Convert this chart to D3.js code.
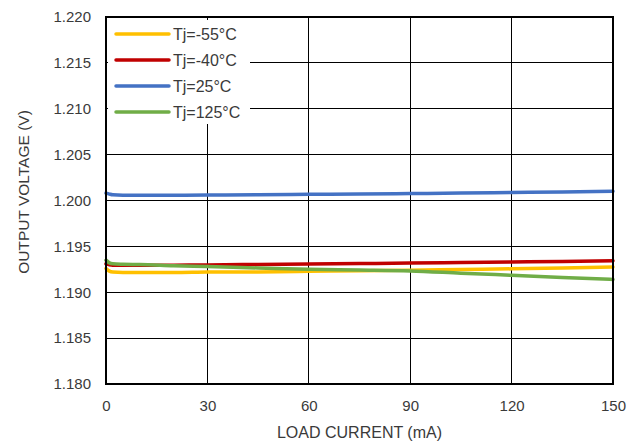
<!DOCTYPE html>
<html><head><meta charset="utf-8">
<script src="https://cdn.jsdelivr.net/npm/d3@7"></script>
<style>
body{margin:0;background:#fff;}
svg text{font-family:"Liberation Sans",Arial,sans-serif;fill:#3a3a3a;}
</style></head>
<body><svg id="c" width="628" height="443"></svg>
<script>
const loadCurrent = [0, 1, 2, 5, 10, 20, 30, 45, 60, 75, 90, 105, 120, 135, 150];
const vMinus55 = [1.1926, 1.1923, 1.1922, 1.19215, 1.19215, 1.19215, 1.1922, 1.19222, 1.19228, 1.19235, 1.1924, 1.19248, 1.19255, 1.19265, 1.19275];
const vMinus40 = [1.1931, 1.1930, 1.19295, 1.19293, 1.19293, 1.19295, 1.19298, 1.19303, 1.19308, 1.19313, 1.19318, 1.19324, 1.1933, 1.19336, 1.19343];
const v25 = [1.2008, 1.2007, 1.20062, 1.20058, 1.20058, 1.20058, 1.2006, 1.20063, 1.20067, 1.20071, 1.20076, 1.20081, 1.20087, 1.20093, 1.2010];
const v125 = [1.1935, 1.1932, 1.1931, 1.19305, 1.19302, 1.1929, 1.1928, 1.19265, 1.1925, 1.19242, 1.19232, 1.19208, 1.19185, 1.19162, 1.1914];
const seriesNames = ["Tj=-55°C", "Tj=-40°C", "Tj=25°C", "Tj=125°C"];
const seriesColors = ["#FFC000", "#C00000", "#4472C4", "#70AD47"];
const xTicks = [0, 30, 60, 90, 120, 150];
const yTicks = [1.180, 1.185, 1.190, 1.195, 1.200, 1.205, 1.210, 1.215, 1.220];

const seriesValues = [vMinus55, vMinus40, v25, v125];
const svg = d3.select("#c");
const L = 106, R = 613, T = 17, B = 384;
const x = d3.scaleLinear().domain([0, 150]).range([L, R]);
const y = d3.scaleLinear().domain([1.180, 1.220]).range([B, T]);

// grid
svg.append("g").selectAll("line").data(yTicks).join("line")
  .attr("x1", L).attr("x2", R).attr("y1", d => y(d)).attr("y2", d => y(d))
  .attr("stroke", "#000").attr("stroke-width", 1).attr("shape-rendering","crispEdges");
svg.append("g").selectAll("line").data(xTicks).join("line")
  .attr("y1", T).attr("y2", B).attr("x1", d => x(d)).attr("x2", d => x(d))
  .attr("stroke", "#000").attr("stroke-width", 1).attr("shape-rendering","crispEdges");

// axes labels
const yAxis = d3.axisLeft(y).tickValues(yTicks).tickFormat(d3.format(".3f")).tickSize(0).tickPadding(15);
const gy = svg.append("g").attr("transform", `translate(${L},0)`).call(yAxis);
gy.select(".domain").remove();
gy.selectAll("text").attr("font-size", 15).attr("fill", "#3a3a3a").attr("font-family", "Liberation Sans, Arial, sans-serif");

const xAxis = d3.axisBottom(x).tickValues(xTicks).tickFormat(d3.format("d")).tickSize(0).tickPadding(16);
const gx = svg.append("g").attr("transform", `translate(0,${B})`).call(xAxis);
gx.select(".domain").remove();
gx.selectAll("text").attr("font-size", 15).attr("fill", "#3a3a3a").attr("font-family", "Liberation Sans, Arial, sans-serif");

// lines
const line = d3.line().x((d, i) => x(loadCurrent[i])).y(d => y(d)).curve(d3.curveMonotoneX);
svg.append("g").selectAll("path").data(seriesValues).join("path")
  .attr("d", d => line(d)).attr("fill", "none")
  .attr("stroke", (d, i) => seriesColors[i]).attr("stroke-width", 3.5).attr("stroke-linecap", "round");

// frame
svg.append("rect").attr("x", L).attr("y", T).attr("width", R - L).attr("height", B - T)
  .attr("fill", "none").attr("stroke", "#000").attr("stroke-width", 2);

// legend
const lg = svg.append("g");
lg.append("rect").attr("x", L + 2).attr("y", T + 3).attr("width", 142).attr("height", 104).attr("fill", "#fff");
const ly = [34, 60, 86, 112];
seriesNames.forEach((n, i) => {
  lg.append("line").attr("x1", 116).attr("x2", 169).attr("y1", ly[i]).attr("y2", ly[i])
    .attr("stroke", seriesColors[i]).attr("stroke-width", 3.5).attr("stroke-linecap", "round");
  lg.append("text").attr("x", 173).attr("y", ly[i]).attr("dy", "0.35em")
    .attr("font-size", 16).text(n);
});

// titles
svg.append("text").attr("x", (L + R) / 2).attr("y", 438).attr("text-anchor", "middle")
  .attr("font-size", 16).text("LOAD CURRENT (mA)");
svg.append("text").attr("transform", "translate(29,192) rotate(-90)").attr("text-anchor", "middle")
  .attr("font-size", 15.5).text("OUTPUT VOLTAGE (V)");
</script></body></html>
